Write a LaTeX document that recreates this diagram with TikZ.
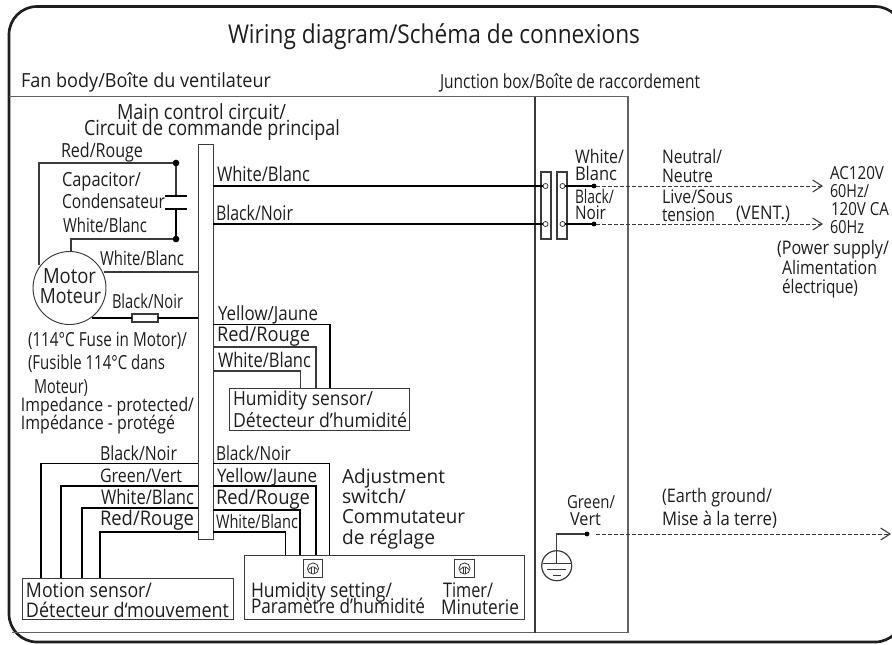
\documentclass[tikz,border=0pt]{standalone}
\usepackage{fontspec}
\usepackage{graphicx}
\setmainfont{Open Sans}
\usetikzlibrary{arrows.meta,calc}
\newsavebox{\lblbox}
\newlength{\pxu}\setlength{\pxu}{0.75pt}
\newcommand{\fitw}[3]{\pgfmathsetmacro{\lblfs}{#2*1.08}\sbox{\lblbox}{\fontsize{\lblfs}{\lblfs}\selectfont #3}\pgfmathsetmacro{\lblr}{#1*0.75/\the\wd\lblbox}\scalebox{\lblr}[1]{\usebox{\lblbox}}}
\newcommand{\Lbl}[6]{\node[lbl] (#1) at (#2,#3) {\fitw{#4}{#5}{#6}};}
\definecolor{ink}{HTML}{1E1E1E}
\definecolor{wire}{HTML}{3A3A3A}
\tikzset{
  lbl/.style={anchor=base west,inner sep=0pt,outer sep=0pt,text=ink},
  frameline/.style={draw=ink,line width=2pt},
  divider/.style={draw=wire!80,line width=1pt},
  thin wire/.style={draw=wire,line width=0.8pt},
  thick wire/.style={draw=black,line width=1.3pt},
  boxn/.style={draw=wire,line width=0.7pt,fill=white,inner sep=0pt,outer sep=0pt},
  dotn/.style={circle,fill=black,inner sep=0pt,outer sep=0pt,minimum size=5pt},
  tinydot/.style={circle,fill=black,inner sep=0pt,outer sep=0pt,minimum size=3.6pt},
  termhole/.style={circle,draw=wire,fill=white,line width=0.6pt,inner sep=0pt,outer sep=0pt,minimum size=3.8pt},
  dashwire/.style={draw=wire,line width=0.7pt,dash pattern=on 3pt off 1.5pt,-{Straight Barb[length=7pt,width=9pt,line width=0.8pt]}},
  dial/.style={boxn,line width=0.8pt,minimum width=19.6*\pxu,minimum height=18.5*\pxu},
}
\newcommand{\DialMark}[1]{%
  \draw[wire,line width=0.6pt] (#1) circle (4.2pt);
  \draw[wire,line width=0.6pt] ($(#1)+(-1.2,-1.5)$) -- ($(#1)+(-1.2,5.5)$);
  \draw[wire,line width=0.6pt] ($(#1)+(1.2,-1.5)$) -- ($(#1)+(1.2,5.5)$);
  \draw[wire,line width=0.6pt] ($(#1)+(-4.5,1)$) -- ($(#1)+(-1.2,-1.5)$) -- ($(#1)+(1.2,-1.5)$) -- ($(#1)+(4.5,1)$);
}
\begin{document}
\begin{tikzpicture}[x=0.75pt,y=-0.75pt]
\useasboundingbox (0,0) rectangle (892,644);
\fill[white] (0,0) rectangle (892,644);
\clip (0,0) rectangle (892,644);
% outer frame
\draw[frameline,rounded corners=21pt] (9,6.5) rectangle (903,642);
% fan body / junction box
\draw[divider] (9,96.5) -- (628,96.5) -- (628,632.5) -- (12,632.5);
\draw[draw=wire,line width=1.1pt] (535,96.5) -- (535,632.5);
% nodes
\node[boxn,minimum width=15*\pxu,minimum height=395*\pxu] (board) at (205.5,341.5) {};
\node[draw=wire,line width=0.7pt,circle,fill=white,inner sep=0pt,outer sep=0pt,minimum size=73*\pxu] (motor) at (69.5,288) {};
\node[dotn] (capTop) at (176,163) {};
\node[dotn] (capBot) at (176,239) {};
\coordinate (plateA) at (176,196);
\coordinate (plateB) at (176,209);
\node[boxn,minimum width=180*\pxu,minimum height=42*\pxu] (hum) at (319,409) {};
\node[boxn,minimum width=211*\pxu,minimum height=41*\pxu] (motion) at (127.5,598.5) {};
\node[boxn,minimum width=280*\pxu,minimum height=64*\pxu] (adj) at (384,587) {};
\node[dial] (dialA) at (313,568.5) {};
\node[dial] (dialB) at (464.5,568.5) {};
\node[boxn,line width=0.9pt,minimum width=26*\pxu,minimum height=8*\pxu] (fuse) at (145,318) {};
\node[boxn,line width=0.9pt,minimum width=10*\pxu,minimum height=67*\pxu] (termA) at (546,205.5) {};
\node[boxn,line width=0.9pt,minimum width=10*\pxu,minimum height=67*\pxu] (termB) at (562,205.5) {};
\node[termhole] (holeAW) at (545.5,186) {};
\node[termhole] (holeAB) at (545.5,224) {};
\node[termhole] (holeBW) at (562.5,186) {};
\node[termhole] (holeBB) at (562.5,224) {};
\node[tinydot] (dotW) at (594,186) {};
\node[tinydot] (dotB) at (594,224) {};
\node[tinydot] (dotG) at (587,534) {};
\node[draw=wire,line width=0.9pt,circle,inner sep=0pt,outer sep=0pt,minimum size=30*\pxu] (gnd) at (556.7,565.7) {};
\coordinate (tipW) at (823,186);
\coordinate (tipB) at (823,224);
\coordinate (tipG) at (891,534);
% capacitor
\draw[thin wire] (capTop) -- (plateA);
\draw[thick wire] (plateB) -- (capBot);
\draw[thick wire] ($(plateA)+(-11,0)$) -- ($(plateA)+(11,0)$);
\draw[thick wire] ($(plateB)+(-11,0)$) -- ($(plateB)+(11,0)$);
% motor wires
\draw[thin wire] (capTop) -- (39,163) -- (39,265);
\draw[thin wire] (capBot) -- (71,239) -- (motor.north -| 71,0);
\draw[thin wire] (board.west |- 0,272) -- (104,272);
\draw[thick wire] (92,318) -- (fuse.west);
\draw[thick wire] (fuse.east) -- (board.west |- 0,318);
% mains
\draw[thick wire] (board.east |- 0,186) -- (holeAW);
\draw[thick wire] (board.east |- 0,224) -- (holeAB);
\draw[thick wire] (holeBW) -- (dotW);
\draw[thick wire] (holeBB) -- (dotB);
\draw[dashwire] (dotW) -- (tipW);
\draw[dashwire] (dotB) -- (tipB);
\draw[dashwire] (dotG) ++(9,0) -- (tipG);
\draw[thin wire] (dotG) -| (gnd.north);
\draw[thin wire] (gnd.north) -- (556.7,563.3);
\draw[draw=wire,line width=0.9pt] (542.7,563.3) -- (570.7,563.3);
\draw[draw=wire,line width=0.9pt] (547,569.3) -- (566,569.3);
\draw[draw=wire,line width=1pt] (552.7,575.8) -- (560.7,575.8);
% humidity sensor
\draw[thick wire,line width=1pt] (board.east |- 0,324.5) -| (hum.north -| 330,0);
\draw[thin wire] (board.east |- 0,347) -| (hum.north -| 316,0);
\draw[thin wire] (board.east |- 0,371) -| (hum.north -| 300.5,0);
% motion sensor
\draw[thick wire,line width=1pt] (board.west |- 0,463.5) -| (motion.north -| 41,0);
\draw[thick wire,line width=1pt] (board.west |- 0,486) -| (motion.north -| 61,0);
\draw[thick wire,line width=1pt] (board.west |- 0,508) -| (motion.north -| 82,0);
\draw[thick wire,line width=1pt] (board.west |- 0,532) -| (motion.north -| 100,0);
% adjustment switch
\draw[thick wire,line width=1pt] (board.east |- 0,463.5) -| (adj.north -| 329.5,0);
\draw[thick wire,line width=1pt] (board.east |- 0,486) -| (adj.north -| 316,0);
\draw[thick wire,line width=1pt] (board.east |- 0,510) -| (adj.north -| 300,0);
\draw[thick wire,line width=1pt] (board.east |- 0,532) -| (adj.north -| 285.5,0);
\DialMark{dialA}
\DialMark{dialB}
% labels
\Lbl{tTitle}{228}{43}{412}{18}{Wiring diagram/Schéma de connexions}
\Lbl{tFan}{21}{87}{250}{13.5}{Fan body/Boîte du ventilateur}
\Lbl{tJunc}{440}{88}{260}{13.5}{Junction box/Boîte de raccordement}
\Lbl{tMainA}{117}{119}{169}{14.5}{Main control circuit/}
\Lbl{tMainB}{84}{135}{256}{14.5}{Circuit de commande principal}
\Lbl{tRedA}{61}{157}{82}{13.5}{Red/Rouge}
\Lbl{tCapA}{62}{186}{79}{13.5}{Capacitor/}
\Lbl{tCapB}{62}{208}{103}{13.5}{Condensateur}
\Lbl{tWhA}{63}{232}{84}{13.5}{White/Blanc}
\Lbl{tWhB}{100}{265}{84}{13.5}{White/Blanc}
\Lbl{tMotA}{43}{283}{53}{14.5}{Motor}
\Lbl{tMotB}{40}{303}{61}{14.5}{Moteur}
\Lbl{tBlA}{112}{308}{71}{13.5}{Black/Noir}
\Lbl{tWhC}{217}{181}{93}{14}{White/Blanc}
\Lbl{tBlB}{216}{220}{77}{14}{Black/Noir}
\Lbl{tYeA}{218}{320}{100}{13.5}{Yellow/Jaune}
\Lbl{tReB}{217}{341}{93}{14}{Red/Rouge}
\Lbl{tWhD}{218}{367}{93}{14}{White/Blanc}
\Lbl{tFuseA}{28}{346}{159}{13.5}{(114°C Fuse in Motor)/}
\Lbl{tFuseB}{28}{369}{137}{13.5}{(Fusible 114°C dans}
\Lbl{tFuseC}{34}{393}{54}{13.5}{Moteur)}
\Lbl{tImpA}{21}{411}{173}{13}{Impedance - protected/}
\Lbl{tImpB}{21}{429}{154}{13}{Impédance - protégé}
\Lbl{tHumA}{233}{405}{140}{13.5}{Humidity sensor/}
\Lbl{tHumB}{233}{427}{174}{13.5}{Détecteur d'humidité}
\Lbl{tBlC}{100}{460}{77}{13.5}{Black/Noir}
\Lbl{tGrA}{100}{482}{82}{13}{Green/Vert}
\Lbl{tWhE}{101}{504}{93}{14}{White/Blanc}
\Lbl{tReC}{100}{525}{94}{14}{Red/Rouge}
\Lbl{tBlD}{216}{460}{75}{13.5}{Black/Noir}
\Lbl{tYeB}{217}{482}{100}{13}{Yellow/Jaune}
\Lbl{tReD}{216}{504}{94}{14}{Red/Rouge}
\Lbl{tWhF}{216}{528}{82}{13}{White/Blanc}
\Lbl{tAdjA}{342}{483}{103}{13.5}{Adjustment}
\Lbl{tAdjB}{342}{503}{64}{13.5}{switch/}
\Lbl{tAdjC}{342}{523}{123}{13.5}{Commutateur}
\Lbl{tAdjD}{342}{544}{93}{13.5}{de réglage}
\Lbl{tMoA}{26}{597}{126}{14}{Motion sensor/}
\Lbl{tMoB}{26}{617}{203}{14}{Détecteur d‘mouvement}
\Lbl{tSetA}{251}{597}{141}{14}{Humidity setting/}
\Lbl{tSetB}{251}{613}{174}{14}{Paramètre d'humidité}
\Lbl{tTiA}{443}{597}{50}{14}{Timer/}
\Lbl{tTiB}{441}{614}{78}{14}{Minuterie}
\Lbl{tRWa}{575}{163}{49}{13}{White/}
\Lbl{tRWb}{575}{180}{42}{13}{Blanc}
\Lbl{tRBa}{575}{203}{39}{13}{Black/}
\Lbl{tRBb}{575}{219}{31}{13}{Noir}
\Lbl{tNeA}{662}{163}{60}{13}{Neutral/}
\Lbl{tNeB}{662}{182}{51}{13}{Neutre}
\Lbl{tLiA}{662}{203}{71}{13}{Live/Sous}
\Lbl{tLiB}{662}{221}{53}{13}{tension}
\Lbl{tVent}{736}{219}{54}{13}{(VENT.)}
\Lbl{tAcA}{830}{179}{54}{12.5}{AC120V}
\Lbl{tAcB}{830}{197}{39}{12.5}{60Hz/}
\Lbl{tAcC}{831}{215}{58}{12.5}{120V CA}
\Lbl{tAcD}{830}{233}{34}{12.5}{60Hz}
\Lbl{tPoA}{777}{254}{112}{13}{(Power supply/}
\Lbl{tPoB}{782}{274}{95}{13}{Alimentation}
\Lbl{tPoC}{782}{293}{76}{13}{électrique)}
\Lbl{tGnA}{567}{508}{48}{12.5}{Green/}
\Lbl{tGnB}{570}{525}{31}{12.5}{Vert}
\Lbl{tEaA}{662}{502}{110}{13}{(Earth ground/}
\Lbl{tEaB}{662}{525}{115}{13}{Mise à la terre)}
\end{tikzpicture}
\end{document}
